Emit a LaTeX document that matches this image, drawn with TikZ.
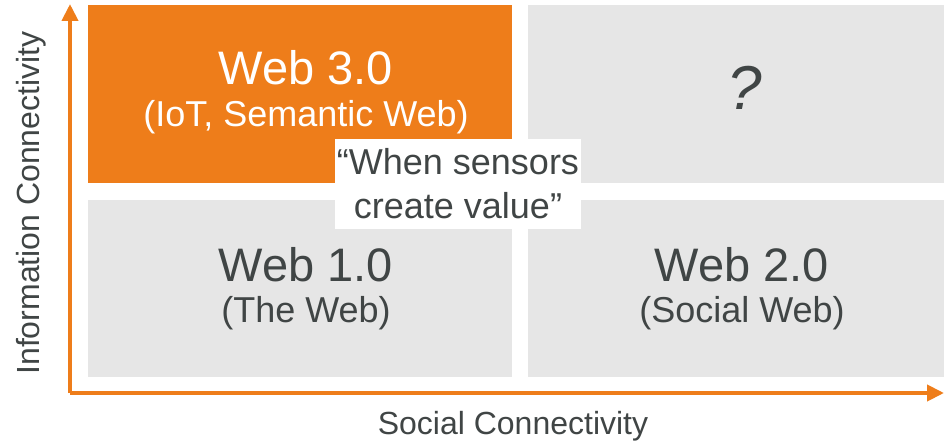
\documentclass[tikz,border=0pt]{standalone}
\usepackage{fontspec}
\setmainfont{Liberation Sans}
\usetikzlibrary{arrows.meta}
\definecolor{weborange}{HTML}{EE7D1A}
\definecolor{webgrey}{HTML}{E6E6E6}
\definecolor{webtext}{HTML}{404545}
\newcommand{\bigfont}{\fontsize{47}{52}\selectfont}
\newcommand{\midfont}{\fontsize{36}{44}\selectfont}
\begin{document}
\begin{tikzpicture}[x=1pt,y=-1pt]
        \tikzstyle{field}=[rectangle,fill=webgrey,inner sep=0pt,minimum height=177pt]
        \tikzstyle{fieldtext}=[text=webtext,align=center,inner sep=0pt]
        \tikzstyle{axis}=[draw=weborange,line width=4pt,-{Triangle[length=17pt,width=16pt]}]
        \tikzstyle{axislabel}=[text=webtext,font=\fontsize{32}{38}\selectfont]
        \useasboundingbox (0,0) rectangle (944,443);
       \begin{scope}
         \node [field,fill=weborange,minimum width=424pt,minimum height=178pt] (web3) at (300,94) {};
         \node [field,minimum width=416pt,minimum height=178pt] (unknown) at (736,94) {};
         \node [field,minimum width=424pt] (web1) at (300,288.5) {};
         \node [field,minimum width=416pt] (web2) at (736,288.5) {};
         \node [fieldtext,text=white] (web3text) at ([xshift=6pt,yshift=2pt]web3.center) {\bigfont Web 3.0\\[14pt] \midfont (IoT, Semantic Web)};
         \node [fieldtext,font=\fontsize{62}{70}\selectfont\itshape] (qmark) at (745,88) {?};
         \node [fieldtext] (web1text) at ([xshift=6pt]web1.center) {\bigfont Web 1.0\\[14pt] \midfont (The Web)};
         \node [fieldtext] (web2text) at ([xshift=6pt]web2.center) {\bigfont Web 2.0\\[14pt] \midfont (Social Web)};
         \node [field,fieldtext,fill=white,font=\midfont,minimum width=246pt,minimum height=90pt] (quote) at (458,184) {``When sensors\\ create value''};
        \end{scope}
         \coordinate (origin) at (70,393);
         \coordinate (ytip) at (70,4);
         \coordinate (xtip) at (944,393);
         \draw [axis] (origin) -- (ytip);
         \draw [axis] (origin) -- (xtip);
         \node [axislabel] (xlabel) at (513,426) {Social Connectivity};
         \node [axislabel,rotate=90] (ylabel) at (31,203) {Information Connectivity};
      \end{tikzpicture}
\end{document}
